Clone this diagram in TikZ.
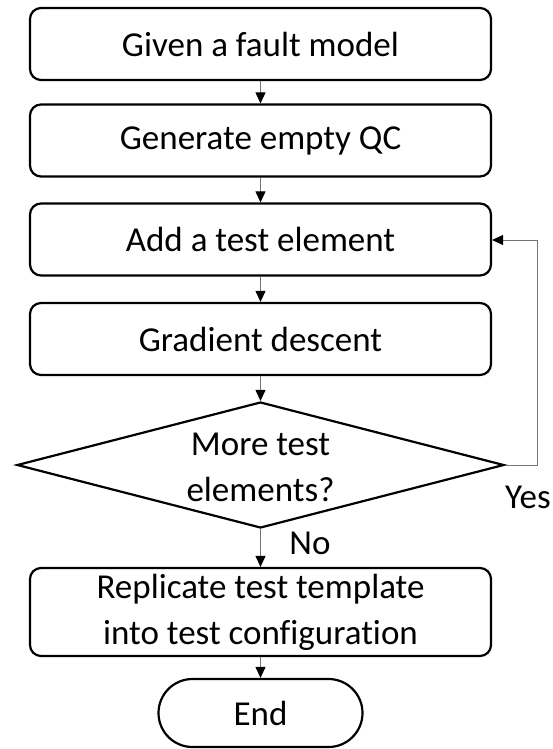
\documentclass[tikz,border=0pt]{standalone}
\usepackage{fontspec}
\setmainfont{Carlito}[Ligatures={NoCommon}]
\usetikzlibrary{shapes.geometric,shapes.misc,arrows.meta}
\begin{document}
\begin{tikzpicture}[x=1pt,y=1pt,
  txt/.style={font=\fontsize{35}{46}\selectfont},
  stepbox/.style={draw=black,line width=2.2pt,rounded corners=11pt,minimum width=461pt,minimum height=72pt,inner sep=0pt,align=center,txt},
  decbox/.style={draw=black,line width=2.2pt,diamond,minimum width=487pt,minimum height=126pt,inner sep=0pt},
  endbox/.style={draw=black,line width=2.2pt,rounded rectangle,minimum width=204pt,minimum height=68pt,inner sep=0pt,txt},
  flow/.style={draw=black!55,line width=1pt,-{Triangle[length=11pt,width=10pt,fill=black,color=black]}},
  lbl/.style={txt,inner sep=0pt,align=center}
]
\useasboundingbox (0,0) rectangle (553,-749);
\node[stepbox] (n1) at (260.5,-44) {Given a fault model};
\node[stepbox] (n2) at (260.5,-140.5) {Generate empty QC};
\node[stepbox] (n3) at (260.5,-239.5) {Add a test element};
\node[stepbox] (n4) at (260.5,-339) {Gradient descent};
\node[decbox] (d) at (260.5,-465) {};
\node[lbl] (dt) at (260.5,-467) {More test\\elements?};
\node[stepbox,minimum height=88pt] (n5) at (260.5,-612) {Replicate test template\\into test configuration};
\node[endbox] (e) at (260.5,-713) {End};
\coordinate (c1) at (537,-465);
\coordinate (c2) at (537,-240);
\draw[flow] (n1.south) -- (n2.north);
\draw[flow] (n2.south) -- (n3.north);
\draw[flow] (n3.south) -- (n4.north);
\draw[flow] (n4.south) -- (d.north);
\draw[flow] (d.south) -- (n5.north);
\draw[flow] (n5.south) -- (e.north);
\draw[flow] (d.east) -- (c1) -- (c2) -- (n3.east |- c2);
\node[lbl] (yes) at (528,-497) {Yes};
\node[lbl] (no) at (310,-543) {No};
\end{tikzpicture}
\end{document}
